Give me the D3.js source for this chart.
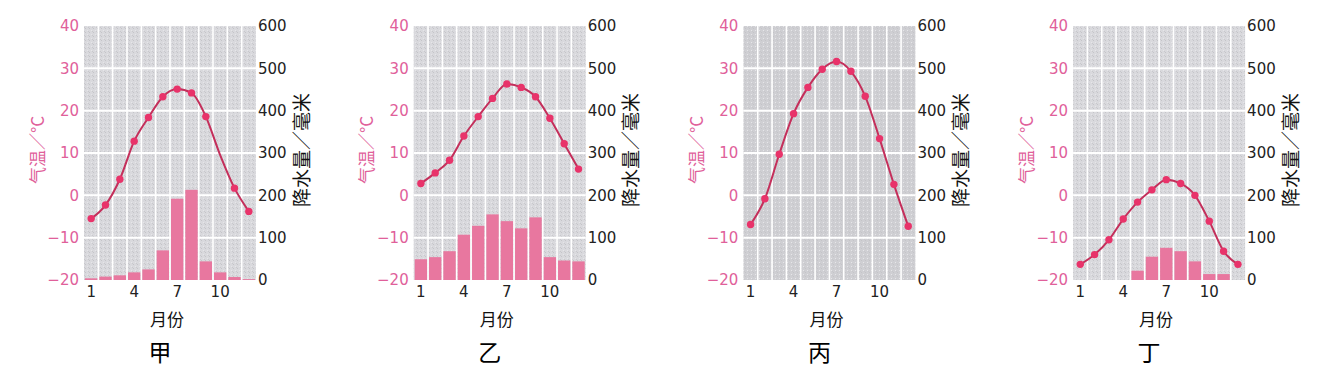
<!DOCTYPE html>
<html>
<head>
<meta charset="utf-8">
<script src="https://cdn.jsdelivr.net/npm/d3@7"></script>
<style>
  body { margin: 0; background: #fff; }
  svg { display: block; }
  text { -webkit-font-smoothing: antialiased; }
</style>
</head>
<body>
<svg id="chart" width="1331" height="375"></svg>
<script>
const months = d3.range(1, 13);
const panelNames = ['甲', '乙', '丙', '丁'];
const monthTicks = [1, 4, 7, 10];
const tempTicks = [-20, -10, 0, 10, 20, 30, 40];
const precipTicks = [0, 100, 200, 300, 400, 500, 600];

// monthly mean temperature (°C)
const tempJia = [-5.5, -2.3, 3.8, 12.8, 18.4, 23.3, 25.1, 24.2, 18.6, 9.5, 1.7, -3.8];
const tempYi = [2.8, 5.3, 8.3, 14.0, 18.6, 22.9, 26.3, 25.5, 23.3, 18.2, 12.2, 6.2];
const tempBing = [-6.9, -0.8, 9.7, 19.3, 25.5, 29.8, 31.6, 29.3, 23.4, 13.4, 2.6, -7.3];
const tempDing = [-16.3, -14.0, -10.5, -5.6, -1.6, 1.3, 3.7, 2.8, 0, -6.1, -13.2, -16.3];

// monthly precipitation (mm)
const precipJia = [4, 8, 11, 18, 25, 70, 192, 213, 44, 18, 7, 2];
const precipYi = [49, 54, 68, 107, 128, 155, 139, 122, 148, 54, 46, 44];
const precipBing = [0, 0, 0, 0, 0, 0, 0, 0, 0, 0, 0, 0];
const precipDing = [0, 0, 0, 0, 22, 55, 76, 68, 44, 14, 14, 0];

// months drawn without a dot in the source (甲, month 10)
const hiddenDots = [[10], [], [], []];

const temps = [tempJia, tempYi, tempBing, tempDing];
const precips = [precipJia, precipYi, precipBing, precipDing];

const W = 172, plotTop = 26, plotBottom = 280;
const pink = '#e0609a', lineColor = '#c42f5b', dotColor = '#e8336a', barColor = '#e8779f';
const bgColor = ['#d9d9dd', '#d9d9dd', '#cfcfd3', '#d9d9dd'];
const numFont = '"DejaVu Sans", sans-serif';
const cjkFont = '"Noto Sans CJK SC", sans-serif';

const svg = d3.select('#chart');

// light speckle texture for the plot background
const defs = svg.append('defs');
bgColor.forEach((c, i) => {
  const p = defs.append('pattern').attr('id', 'speck' + i)
    .attr('width', 4).attr('height', 4).attr('patternUnits', 'userSpaceOnUse');
  p.append('rect').attr('width', 4).attr('height', 4).attr('fill', c);
  p.append('rect').attr('x', 1).attr('y', 0).attr('width', 1).attr('height', 1).attr('fill', '#c4c4c8');
  p.append('rect').attr('x', 3).attr('y', 2).attr('width', 1).attr('height', 1).attr('fill', '#e6e6e9');
  p.append('rect').attr('x', 0).attr('y', 3).attr('width', 1).attr('height', 1).attr('fill', '#c8c8cc');
});

panelNames.forEach((name, i) => {
  const ox = 84 + i * 329.7;
  const g = svg.append('g');

  const x = d3.scaleBand().domain(months).range([ox, ox + W]);
  const yT = d3.scaleLinear().domain([-20, 40]).range([plotBottom, plotTop]);
  const yP = d3.scaleLinear().domain([0, 600]).range([plotBottom, plotTop]);
  const bw = x.bandwidth();

  // background + white grid
  g.append('rect')
    .attr('x', ox).attr('y', plotTop).attr('width', W).attr('height', plotBottom - plotTop)
    .attr('fill', `url(#speck${i})`);

  g.selectAll('.vgrid')
    .data(months.slice(1))
    .join('line')
    .attr('x1', d => x(d)).attr('x2', d => x(d))
    .attr('y1', plotTop).attr('y2', plotBottom)
    .attr('stroke', '#fff').attr('stroke-width', 1.6);

  g.selectAll('.hgrid')
    .data(tempTicks.slice(1, -1))
    .join('line')
    .attr('x1', ox).attr('x2', ox + W)
    .attr('y1', d => yT(d)).attr('y2', d => yT(d))
    .attr('stroke', '#fff').attr('stroke-width', 2);

  // precipitation bars
  const pdata = months.map((m, k) => ({ m, p: precips[i][k] })).filter(d => d.p > 0);
  g.selectAll('.bar')
    .data(pdata)
    .join('rect')
    .attr('x', d => x(d.m) + 1)
    .attr('width', bw - 2)
    .attr('y', d => yP(d.p))
    .attr('height', d => yP(0) - yP(d.p))
    .attr('fill', barColor);

  // temperature line
  const tdata = months.map((m, k) => ({ m, t: temps[i][k] }));
  const line = d3.line()
    .x(d => x(d.m) + bw / 2)
    .y(d => yT(d.t))
    .curve(d3.curveMonotoneX);
  g.append('path')
    .datum(tdata)
    .attr('d', line)
    .attr('fill', 'none')
    .attr('stroke', lineColor)
    .attr('stroke-width', 2);

  g.selectAll('.dot')
    .data(tdata.filter(d => !hiddenDots[i].includes(d.m)))
    .join('circle')
    .attr('cx', d => x(d.m) + bw / 2)
    .attr('cy', d => yT(d.t))
    .attr('r', 3.7)
    .attr('fill', dotColor);

  // axes
  const left = g.append('g')
    .attr('transform', `translate(${ox - 1},0)`)
    .call(d3.axisLeft(yT).tickValues(tempTicks).tickSize(0).tickPadding(4));
  left.select('.domain').remove();
  left.selectAll('text').attr('fill', pink).style('font-size', '15px').style('font-family', numFont);

  const right = g.append('g')
    .attr('transform', `translate(${ox + W},0)`)
    .call(d3.axisRight(yP).tickValues(precipTicks).tickSize(0).tickPadding(2));
  right.select('.domain').remove();
  right.selectAll('text').attr('fill', '#222').style('font-size', '15px').style('font-family', numFont);

  const bottomAxis = g.append('g')
    .attr('transform', `translate(0,${plotBottom})`)
    .call(d3.axisBottom(x).tickValues(monthTicks).tickSize(0).tickPadding(6));
  bottomAxis.select('.domain').remove();
  bottomAxis.selectAll('text').attr('fill', '#222').style('font-size', '15px').style('font-family', numFont);

  // axis titles
  g.append('text')
    .attr('transform', `translate(${ox - 48},150) rotate(-90)`)
    .attr('text-anchor', 'middle').attr('dominant-baseline', 'central')
    .attr('fill', pink).style('font-size', '17px').style('font-family', cjkFont)
    .style('opacity', 0.999)
    .text('气温／°C');

  g.append('text')
    .attr('transform', `translate(${ox + W + 44},150) rotate(-90)`)
    .attr('text-anchor', 'middle').attr('dominant-baseline', 'central')
    .attr('fill', '#111').style('font-size', '19px').style('font-family', cjkFont)
    .style('opacity', 0.999)
    .text('降水量／毫米');

  g.append('text')
    .attr('x', ox + 83).attr('y', 318)
    .attr('text-anchor', 'middle').attr('dominant-baseline', 'central')
    .attr('fill', '#111').style('font-size', '17px').style('font-family', cjkFont)
    .text('月份');

  g.append('text')
    .attr('x', ox + 76).attr('y', 351)
    .attr('text-anchor', 'middle').attr('dominant-baseline', 'central')
    .attr('fill', '#000').style('font-size', '23px').style('font-family', cjkFont)
    .text(name);
});
</script>
</body>
</html>
